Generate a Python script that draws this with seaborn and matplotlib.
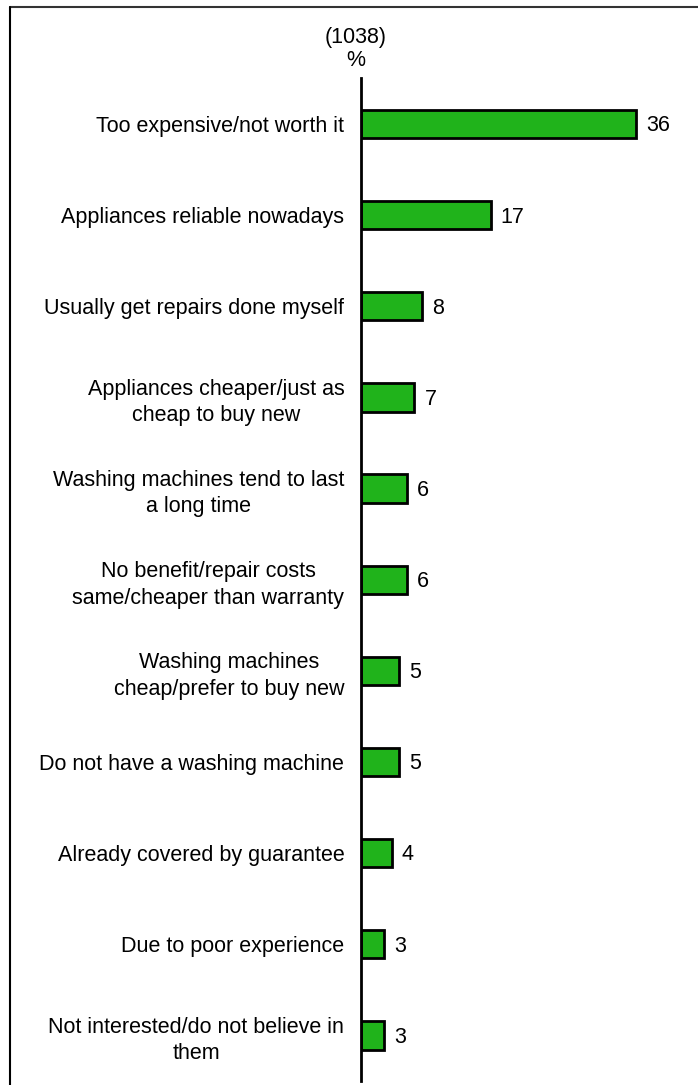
import matplotlib
matplotlib.use("Agg")
import matplotlib.pyplot as plt
from matplotlib.lines import Line2D
import seaborn as sns
import pandas as pd

reasons = [
    "Too expensive/not worth it",
    "Appliances reliable nowadays",
    "Usually get repairs done myself",
    "Appliances cheaper/just as\ncheap to buy new",
    "Washing machines tend to last\na long time",
    "No benefit/repair costs\nsame/cheaper than warranty",
    "Washing machines\ncheap/prefer to buy new",
    "Do not have a washing machine",
    "Already covered by guarantee",
    "Due to poor experience",
    "Not interested/do not believe in\nthem",
]
percent = [36, 17, 8, 7, 6, 6, 5, 5, 4, 3, 3]
base_label = "(1038)"
unit_label = "%"

sns.set_theme(style="white")
plt.rcParams["font.family"] = ["Liberation Sans", "DejaVu Sans"]

FS = 15.5

df = pd.DataFrame({"reason": reasons, "percent": percent})

fig = plt.figure(figsize=(6.98, 10.85), dpi=100)
ax = fig.add_axes([361 / 698, 1 - 1081 / 1085, 1 - 361 / 698, (1081 - 78.5) / 1085])

sns.barplot(data=df, y="reason", x="percent", orient="h", color="#20b31b",
            saturation=1, edgecolor="black", linewidth=2.0, width=0.31, ax=ax)

ax.set_xlim(0, (698 - 361) / 7.64)
ax.set_ylim(10.5, -0.5)
ax.set_xlabel("")
ax.set_ylabel("")
ax.set_xticks([])
for side in ("top", "right", "bottom"):
    ax.spines[side].set_visible(False)
ax.spines["left"].set_color("black")
ax.spines["left"].set_linewidth(2.0)
ax.tick_params(axis="y", length=0, pad=12, labelsize=FS, colors="black")
for lbl in ax.get_yticklabels():
    lbl.set_multialignment("center")
    lbl.set_linespacing(1.33)

for i, v in enumerate(percent):
    ax.text(v + 1.3, i + 0.02, f"{v}", va="center", ha="left", fontsize=FS, color="black")

fig.text(356 / 698, 1 - 37 / 1085, base_label, ha="center", va="center",
         fontsize=FS, color="black")
fig.text(356 / 698, 1 - 60 / 1085, unit_label, ha="center", va="center",
         fontsize=FS, color="black")

# frame lines along the top and left of the figure
fig.add_artist(Line2D([9.5 / 698, 1], [1 - 6.5 / 1085, 1 - 6.5 / 1085],
                      transform=fig.transFigure, color="#333333", linewidth=1.5))
fig.add_artist(Line2D([9.5 / 698, 9.5 / 698], [0, 1 - 6.5 / 1085],
                      transform=fig.transFigure, color="black", linewidth=1.5))

fig.savefig("out.png", dpi=100)
